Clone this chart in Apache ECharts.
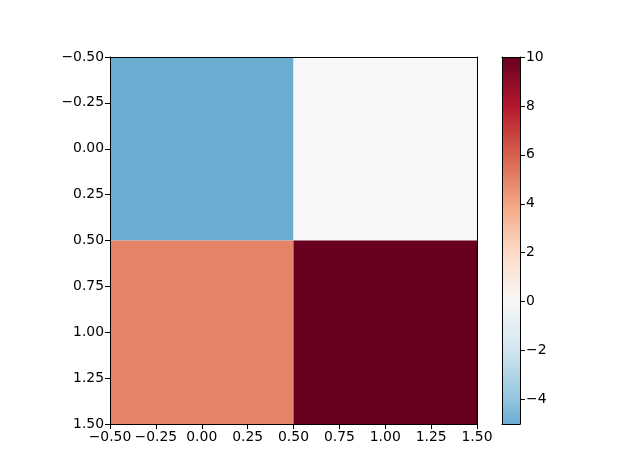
<!DOCTYPE html>
<html>
<head>
<meta charset="utf-8">
<script src="https://cdn.jsdelivr.net/npm/echarts@6/dist/echarts.min.js"></script>
<style>html,body{margin:0;padding:0;background:#fff;}#c{width:640px;height:476px;}</style>
</head>
<body>
<div id="c"></div>
<script>
// ---- data ----
const xCats = [0, 1];
const yCats = [0, 1];
const row0 = [-5, 0];
const row1 = [5, 10];
const colorbarTicks = [-4, -2, 0, 2, 4, 6, 8, 10];
const cbarMin = -5, cbarMax = 10;
const normMin = -10, normMax = 10;

// ---- colormap (RdBu_r) ----
const anchors = ['#053061','#2166ac','#4393c3','#92c5de','#d1e5f0','#f7f7f7','#fddbc7','#f4a582','#d6604d','#b2182b','#67001f'];
function hex2rgb(h){return [parseInt(h.substr(1,2),16),parseInt(h.substr(3,2),16),parseInt(h.substr(5,2),16)];}
function cmap(t){
  t = Math.max(0, Math.min(1, t));
  const p = t * (anchors.length - 1);
  const i = Math.min(Math.floor(p), anchors.length - 2);
  const f = p - i;
  const a = hex2rgb(anchors[i]), b = hex2rgb(anchors[i+1]);
  const c = a.map((v, k) => Math.round(v + (b[k] - v) * f));
  return 'rgb(' + c.join(',') + ')';
}
function valColor(v){ return cmap((v - normMin) / (normMax - normMin)); }

const rangeColors = [];
for (let v = cbarMin; v <= cbarMax + 1e-9; v += 0.25) rangeColors.push(valColor(v));
const gradStops = rangeColors.map((c, i) => ({offset: i / (rangeColors.length - 1), color: c}));

const cells = [];
[row0, row1].forEach((row, yi) => row.forEach((v, xi) => cells.push([xCats[xi], yCats[yi], v])));

const fmt = v => (v < 0 ? '\u2212' : '') + Math.abs(v).toFixed(2);
const fmtInt = v => (v < 0 ? '\u2212' : '') + Math.abs(v);
const font = {fontFamily: 'DejaVu Sans', fontSize: 13.9, color: '#000'};
const lineStyle = {color: '#000', width: 1};

const chart = echarts.init(document.getElementById('c'), null, {renderer: 'canvas'});
chart.setOption({
  animation: false,
  backgroundColor: '#fff',
  grid: [
    {left: 110, top: 57, width: 367, height: 367},
    {left: 502, top: 57, width: 18, height: 367}
  ],
  visualMap: {
    show: false, type: 'continuous', seriesIndex: 0, dimension: 2,
    min: cbarMin, max: cbarMax, inRange: {color: rangeColors}
  },
  xAxis: [
    {type: 'value', gridIndex: 0, min: -0.5, max: 1.5, interval: 0.25, z: 10,
     axisLine: {show: true, onZero: false, lineStyle},
     axisTick: {show: true, length: 5, lineStyle},
     axisLabel: {...font, margin: 6, formatter: fmt},
     splitLine: {show: false}},
    {type: 'value', gridIndex: 0, position: 'top', min: -0.5, max: 1.5, z: 10,
     axisLine: {show: true, onZero: false, lineStyle}, axisTick: {show: false}, axisLabel: {show: false}, splitLine: {show: false}},
    {type: 'value', gridIndex: 1, min: 0, max: 1, z: 10,
     axisLine: {show: true, onZero: false, lineStyle}, axisTick: {show: false}, axisLabel: {show: false}, splitLine: {show: false}},
    {type: 'value', gridIndex: 1, position: 'top', min: 0, max: 1, z: 10,
     axisLine: {show: true, onZero: false, lineStyle}, axisTick: {show: false}, axisLabel: {show: false}, splitLine: {show: false}}
  ],
  yAxis: [
    {type: 'value', gridIndex: 0, inverse: true, min: -0.5, max: 1.5, interval: 0.25, z: 10,
     axisLine: {show: true, onZero: false, lineStyle},
     axisTick: {show: true, length: 5, lineStyle},
     axisLabel: {...font, margin: 6, formatter: fmt},
     splitLine: {show: false}},
    {type: 'value', gridIndex: 0, position: 'right', inverse: true, min: -0.5, max: 1.5, z: 10,
     axisLine: {show: true, onZero: false, lineStyle}, axisTick: {show: false}, axisLabel: {show: false}, splitLine: {show: false}},
    {type: 'value', gridIndex: 1, position: 'right', min: cbarMin, max: cbarMax, z: 10,
     axisLine: {show: true, onZero: false, lineStyle},
     axisTick: {show: true, length: 5, lineStyle, customValues: colorbarTicks},
     axisLabel: {...font, margin: 6, formatter: fmtInt, customValues: colorbarTicks},
     splitLine: {show: false}},
    {type: 'value', gridIndex: 1, position: 'left', min: cbarMin, max: cbarMax, z: 10,
     axisLine: {show: true, onZero: false, lineStyle}, axisTick: {show: false}, axisLabel: {show: false}, splitLine: {show: false}}
  ],
  series: [
    {
      type: 'custom', xAxisIndex: 0, yAxisIndex: 0, data: cells,
      encode: {x: 0, y: 1},
      renderItem: function (params, api) {
        const x = api.value(0), y = api.value(1);
        const p1 = api.coord([x - 0.5, y - 0.5]);
        const p2 = api.coord([x + 0.5, y + 0.5]);
        return {type: 'rect',
          shape: {x: Math.min(p1[0], p2[0]), y: Math.min(p1[1], p2[1]), width: Math.abs(p2[0] - p1[0]), height: Math.abs(p2[1] - p1[1])},
          style: {fill: api.visual('color')}};
      }
    },
    {
      type: 'custom', xAxisIndex: 2, yAxisIndex: 2, data: [[0, cbarMin, cbarMax]],
      encode: {x: 0, y: [1, 2]},
      renderItem: function (params, api) {
        const p1 = api.coord([0, api.value(1)]);
        const p2 = api.coord([1, api.value(2)]);
        return {type: 'rect',
          shape: {x: p1[0], y: p2[1], width: p2[0] - p1[0], height: p1[1] - p2[1]},
          style: {fill: {type: 'linear', x: 0, y: 1, x2: 0, y2: 0, colorStops: gradStops}}};
      }
    }
  ]
});
</script>
</body>
</html>
